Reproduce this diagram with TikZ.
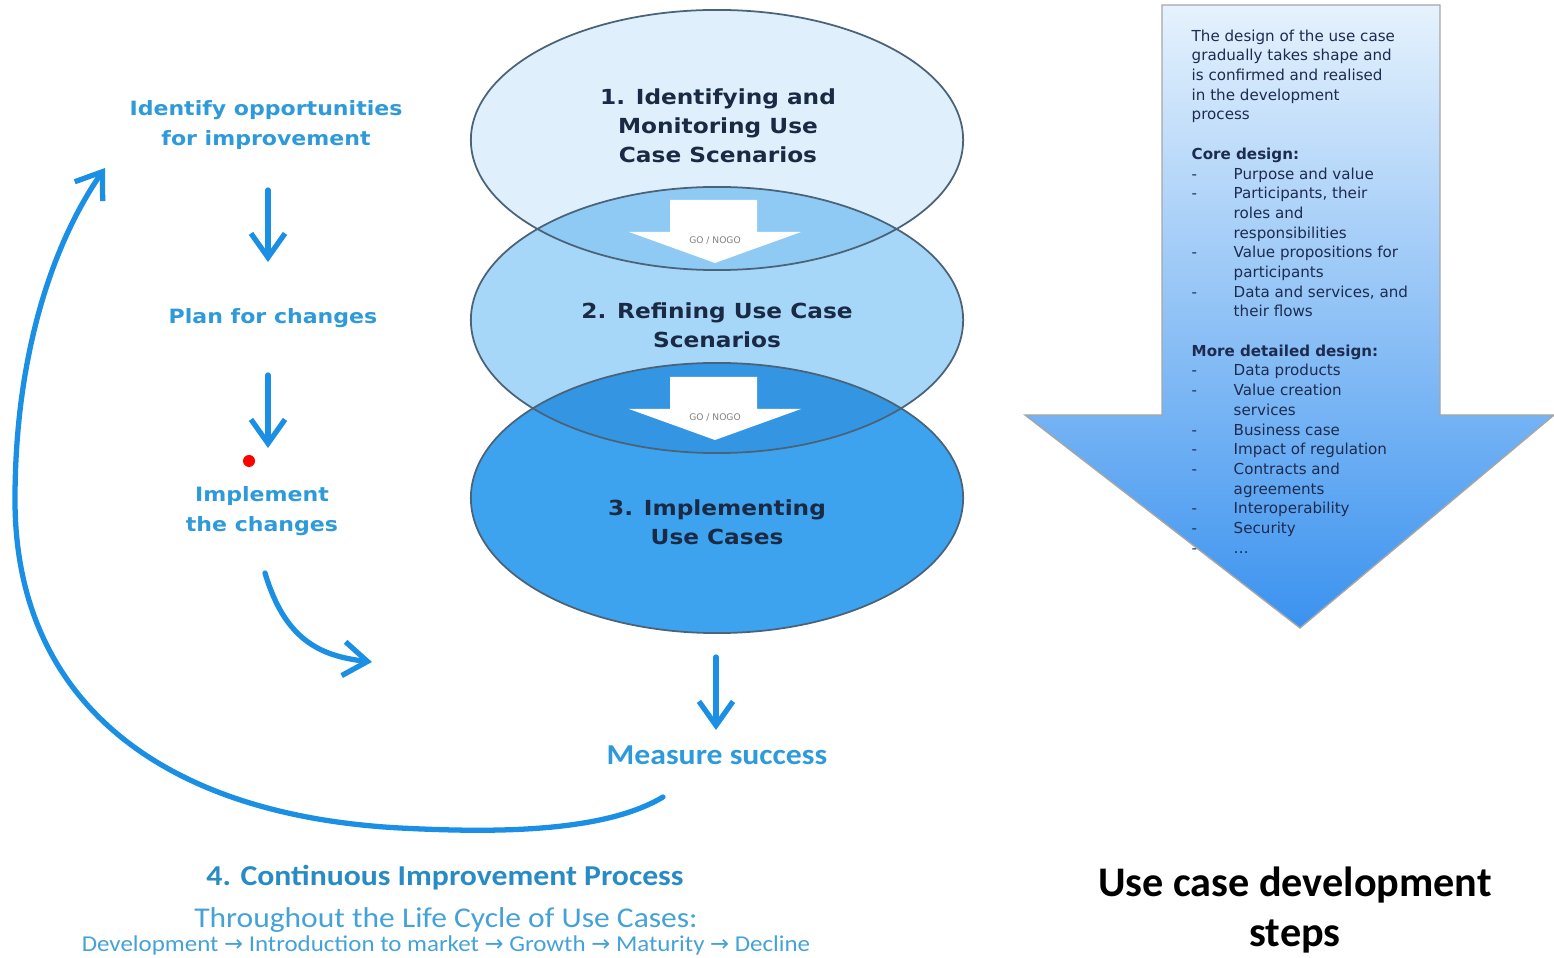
\documentclass[tikz,border=0pt]{standalone}
\usepackage{fontspec}
\setmainfont{Carlito}
\newfontfamily\vfont{DejaVu Sans}
\newfontfamily\wfont[FakeStretch=1.12]{DejaVu Sans}
\newfontfamily\cfont[FakeStretch=1.1]{Carlito}
\usetikzlibrary{positioning}
\usetikzlibrary{calc}
\usetikzlibrary{arrows.meta}

\definecolor{ringline}{HTML}{4A6378}
\definecolor{stageA}{HTML}{DFF0FC}
\definecolor{stageB}{HTML}{A6D6F8}
\definecolor{stageAB}{HTML}{8ECAF3}
\definecolor{stageC}{HTML}{3EA3EF}
\definecolor{stageBC}{HTML}{3496E2}
\definecolor{stagetext}{HTML}{1A2A44}
\definecolor{cycleblue}{HTML}{1A8FE3}
\definecolor{cycletext}{HTML}{2E9AD9}
\definecolor{lifetext}{HTML}{45A2D8}
\definecolor{designtop}{HTML}{E6F2FD}
\definecolor{designmid}{HTML}{A6CDF7}
\definecolor{designbot}{HTML}{3A92EF}
\definecolor{designtext}{HTML}{1D2B4F}

\tikzset{
    stage/.style={draw=ringline, line width=.5pt},
    steptext/.style={font=\wfont\bfseries\fontsize{5.9}{8.3}\selectfont, text=stagetext, align=center},
    cyclelabel/.style={font=\wfont\bfseries\fontsize{5.6}{8.5}\selectfont, text=cycletext, align=center},
    cyclearrow/.style={draw=cycleblue, line width=1.5pt, line cap=round,
        -{Straight Barb[length=2.4mm, width=3.4mm, line width=1.5pt]}},
    lifelabel/.style={text=lifetext, align=center},
}

\newcommand{\itm}[1]{\makebox[0.42cm][l]{-}#1}
\newcommand{\cnt}[1]{\hspace*{0.42cm}#1}

\begin{document}
\begin{tikzpicture}[x=0.01cm, y=-0.01cm]
    \useasboundingbox (0,0) rectangle (1554,958);

    % stages
    \fill[stageA] (717,140) ellipse [x radius=2.46cm, y radius=1.30cm];
    \fill[stageB] (717,320) ellipse [x radius=2.46cm, y radius=1.33cm];
    \begin{scope}
        \clip (717,140) ellipse [x radius=2.46cm, y radius=1.30cm];
        \fill[stageAB] (717,320) ellipse [x radius=2.46cm, y radius=1.33cm];
    \end{scope}
    \fill[stageC] (717,498) ellipse [x radius=2.46cm, y radius=1.35cm];
    \begin{scope}
        \clip (717,320) ellipse [x radius=2.46cm, y radius=1.33cm];
        \fill[stageBC] (717,498) ellipse [x radius=2.46cm, y radius=1.35cm];
    \end{scope}
    \draw[stage] (717,140) ellipse [x radius=2.46cm, y radius=1.30cm];
    \draw[stage] (717,320) ellipse [x radius=2.46cm, y radius=1.33cm];
    \draw[stage] (717,498) ellipse [x radius=2.46cm, y radius=1.35cm];

    \node[steptext] (stepA) at (718,126) {1. Identifying and\\Monitoring Use\\Case Scenarios};
    \node[steptext] (stepB) at (717,325) {2. Refining Use Case\\Scenarios};
    \node[steptext] (stepC) at (717,522) {3. Implementing\\Use Cases};

    % go / nogo gates
    \foreach \gy/\gn in {200/gateA, 377/gateB}{
        \fill[white] (670,\gy) -- (757,\gy) -- ++(0,32) -- ++(44,0) -- (715,\gy+63)
            -- (629,\gy+32) -- (670,\gy+32) -- cycle;
        \node[font=\vfont\fontsize{2.6}{3}\selectfont, text=gray] (\gn) at (715,\gy+41) {GO / NOGO};
    }

    % design arrow
    \shade[top color=designtop, middle color=designmid, bottom color=designbot, draw=gray!70]
        (1162,5) -- (1440,5) -- (1440,415) -- (1554,415) -- (1300,628)
        -- (1025,415) -- (1162,415) -- cycle;
    \node[anchor=north west, align=left, text=designtext, inner sep=0pt,
        font=\vfont\fontsize{4.3}{5.6}\selectfont] (design) at (1191,29) {%
        The design of the use case\\
        gradually takes shape and\\
        is confirmed and realised\\
        in the development\\
        process\\[5.6pt]
        \textbf{Core design:}\\
        \itm{Purpose and value}\\
        \itm{Participants, their}\\
        \cnt{roles and}\\
        \cnt{responsibilities}\\
        \itm{Value propositions for}\\
        \cnt{participants}\\
        \itm{Data and services, and}\\
        \cnt{their flows}\\[5.6pt]
        \textbf{More detailed design:}\\
        \itm{Data products}\\
        \itm{Value creation}\\
        \cnt{services}\\
        \itm{Business case}\\
        \itm{Impact of regulation}\\
        \itm{Contracts and}\\
        \cnt{agreements}\\
        \itm{Interoperability}\\
        \itm{Security}\\
        \itm{\dots}};
    \node[font=\bfseries\fontsize{12}{14.2}\selectfont, align=center] (title) at (1295,910)
        {Use case development\\steps};

    % improvement cycle
    \node[cyclelabel] (ident) at (266,125) {Identify opportunities\\for improvement};
    \node[cyclelabel] (plan) at (273,318) {Plan for changes};
    \node[cyclelabel] (impl) at (262,511) {Implement\\the changes};
    \node[font=\cfont\bfseries\fontsize{8.2}{10}\selectfont, text=cycletext] (measure) at (717,755) {Measure success};
    \fill[red] (249,461) circle (0.06cm);

    \coordinate (identout) at (268,190);
    \coordinate (planin) at (268,262);
    \coordinate (planout) at (268,375);
    \coordinate (implin) at (268,448);
    \coordinate (implout) at (265,573);
    \coordinate (stagein) at (372,662);
    \coordinate (stageout) at (716,657);
    \coordinate (measurein) at (716,730);
    \coordinate (loopout) at (663,797);
    \coordinate (identin) at (105,168);

    \draw[cyclearrow] (identout) -- (planin);
    \draw[cyclearrow] (planout) -- (implin);
    \draw[cyclearrow] (implout) .. controls (285,640) and (320,656) .. (stagein);
    \draw[cyclearrow] (stageout) -- (measurein);
    \draw[cyclearrow] (loopout) .. controls (600,835) and (480,832) .. (400,828)
        .. controls (160,815) and (15,700) .. (15,500)
        .. controls (15,350) and (55,240) .. (identin);

    % life cycle
    \node[lifelabel, font=\cfont\bfseries\fontsize{8.2}{10}\selectfont, text=cycletext!90!black] (cip) at (445,878)
        {4. Continuous Improvement Process};
    \node[lifelabel, font=\cfont\fontsize{8.15}{9}\selectfont] (life) at (446,920)
        {Throughout the Life Cycle of Use Cases:};
    \node[lifelabel, font=\cfont\fontsize{6.45}{8}\selectfont] (phases) at (446,945)
        {Development {\vfont→} Introduction to market {\vfont→} Growth {\vfont→} Maturity {\vfont→} Decline};
\end{tikzpicture}
\end{document}
